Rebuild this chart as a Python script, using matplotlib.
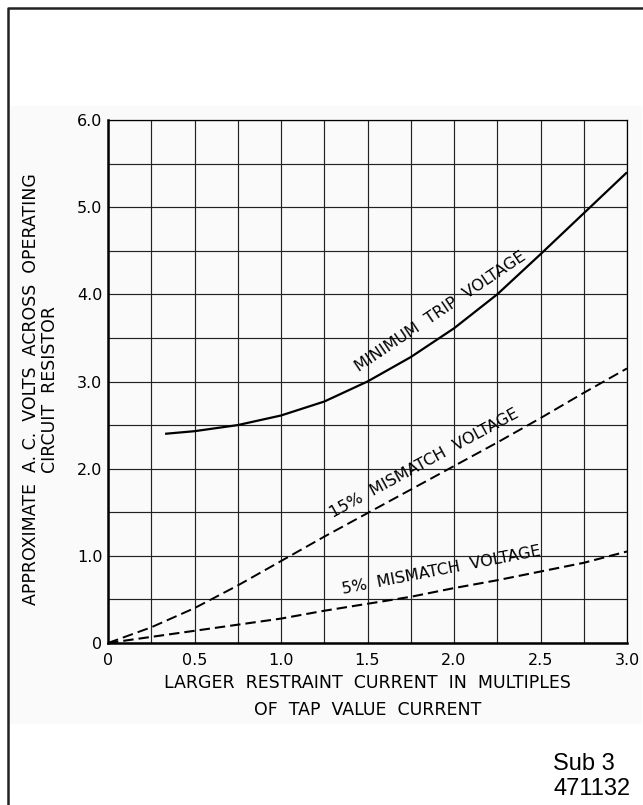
import matplotlib.pyplot as plt
from matplotlib.lines import Line2D
from matplotlib.patches import Rectangle

# values
trip_x = [0.33, 0.5, 0.75, 1.0, 1.25, 1.5, 1.75, 2.0, 2.25, 2.5, 2.75, 3.0]
trip_y = [2.40, 2.43, 2.50, 2.61, 2.77, 3.00, 3.28, 3.61, 4.00, 4.46, 4.93, 5.40]

mm15_x = [0, 0.25, 0.5, 0.75, 1.0, 1.25, 1.5, 1.75, 2.0, 2.25, 2.5, 2.75, 3.0]
mm15_y = [0, 0.18, 0.40, 0.66, 0.94, 1.22, 1.49, 1.76, 2.03, 2.30, 2.58, 2.87, 3.15]

mm5_x = [0, 0.25, 0.5, 0.75, 1.0, 1.25, 1.5, 1.75, 2.0, 2.25, 2.5, 2.75, 3.0]
mm5_y = [0, 0.07, 0.14, 0.21, 0.28, 0.37, 0.45, 0.53, 0.63, 0.72, 0.82, 0.92, 1.05]

x_ticks = [0, 0.5, 1.0, 1.5, 2.0, 2.5, 3.0]
x_ticklabels = ["0", "0.5", "1.0", "1.5", "2.0", "2.5", "3.0"]
y_ticks = [0, 1, 2, 3, 4, 5, 6]
y_ticklabels = ["0", "1.0", "2.0", "3.0", "4.0", "5.0", "6.0"]

W, H = 643, 805
fig = plt.figure(figsize=(W / 100, H / 100), dpi=100)

# faint scan background + page border (left/top only visible)
fig.patches.append(Rectangle((10 / W, 1 - 723 / H), 631 / W, (723 - 106) / H,
                             transform=fig.transFigure, color="#fafafa", zorder=-5))
fig.lines.append(Line2D([8 / W, 8 / W, 1.01], [-0.01, 1 - 8 / H, 1 - 8 / H],
                        transform=fig.transFigure, color="#222222", lw=1.8))

ax = fig.add_axes([108 / W, 1 - 643 / H, 519 / W, 523 / H])
ax.set_facecolor("none")
ax.set_xlim(0, 3.0)
ax.set_ylim(0, 6.0)

ax.set_xticks(x_ticks)
ax.set_xticklabels(x_ticklabels)
ax.set_yticks(y_ticks)
ax.set_yticklabels(y_ticklabels)
ax.set_xticks([i * 0.25 for i in range(13)], minor=True)
ax.set_yticks([i * 0.5 for i in range(13)], minor=True)
ax.tick_params(which="both", length=0)
ax.tick_params(axis="x", pad=7, labelsize=11.5)
ax.tick_params(axis="y", pad=4, labelsize=11.5)
ax.grid(True, which="both", color="#222222", lw=0.85)
ax.set_axisbelow(True)
for s in ["left", "bottom"]:
    ax.spines[s].set_linewidth(1.8)
for s in ["top", "right"]:
    ax.spines[s].set_linewidth(0.9)

ax.plot(trip_x, trip_y, color="black", lw=1.6, solid_capstyle="butt")
ax.plot(mm15_x, mm15_y, color="black", lw=1.4, dashes=(5.5, 2.6))
ax.plot(mm5_x, mm5_y, color="black", lw=1.5, dashes=(5, 2.4))

ax.text(1.92, 3.80, "MINIMUM  TRIP  VOLTAGE", rotation=34, ha="center", va="center",
        rotation_mode="anchor", fontsize=11.5)
ax.text(1.83, 2.06, "15%  MISMATCH  VOLTAGE", rotation=28.5, ha="center", va="center",
        rotation_mode="anchor", fontsize=11.5)
ax.text(1.93, 0.83, "5%  MISMATCH  VOLTAGE", rotation=11, ha="center", va="center",
        rotation_mode="anchor", fontsize=11.5)

fig.text(40.5 / W, 1 - 389 / H, "APPROXIMATE  A. C.  VOLTS  ACROSS  OPERATING\nCIRCUIT  RESISTOR",
         rotation=90, ha="center", va="center", multialignment="center", fontsize=12.5,
         linespacing=1.05)
fig.text(367.5 / W, 1 - 683 / H, "LARGER  RESTRAINT  CURRENT  IN  MULTIPLES",
         ha="center", va="center", fontsize=12.5)
fig.text(367.5 / W, 1 - 710 / H, "OF  TAP  VALUE  CURRENT",
         ha="center", va="center", fontsize=12.5)

fig.text(553 / W, 1 - 763.5 / H, "Sub 3", ha="left", va="center", fontsize=17,
         family="Liberation Sans")
fig.text(553 / W, 1 - 788.5 / H, "471132", ha="left", va="center", fontsize=17,
         family="Liberation Sans")

fig.savefig("out.png", dpi=100)
